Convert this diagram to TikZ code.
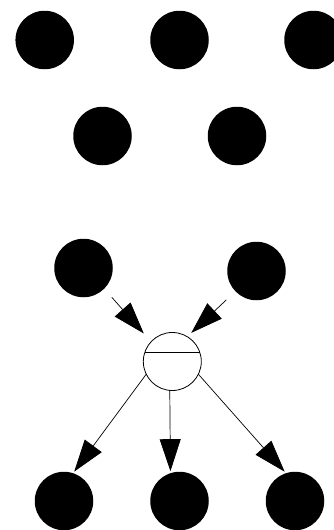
\documentclass[tikz,border=0pt]{standalone}
\usetikzlibrary{arrows.meta,calc}
\begin{document}
\begin{tikzpicture}[x=1pt,y=-1pt,
  dot/.style={circle,fill=black,minimum size=58.5pt,inner sep=0pt,outer sep=0pt},
  hubnode/.style={circle,draw=black,fill=white,line width=0.8pt,minimum size=58pt,inner sep=0pt,outer sep=0pt},
  conn/.style={line width=0.7pt,-{Triangle[length=32pt,width=21pt]}}]
\useasboundingbox (0,0) rectangle (333,530);
\node[dot] (t1) at (44.7,40) {};
\node[dot] (t2) at (179.5,40) {};
\node[dot] (t3) at (313.5,40) {};
\node[dot] (m1) at (102.5,136) {};
\node[dot] (m2) at (237,136) {};
\node[dot] (a) at (83.5,268) {};
\node[dot] (b) at (256.5,271) {};
\node[hubnode] (hub) at (172.3,361.5) {};
\draw[line width=0.8pt] ($(hub.center)+(-27.6,-8.7)$) -- ($(hub.center)+(27.6,-8.7)$);
\node[dot] (c1) at (64,501) {};
\node[dot] (c2) at (179.5,501) {};
\node[dot] (c3) at (295,501) {};
\draw[conn,shorten <=11.5pt,shorten >=11pt] (a.-45) -- (hub.137);
\draw[conn,shorten <=12.5pt,shorten >=5.5pt] (b.224) -- (hub.59);
\draw[conn,shorten >=2pt] (hub.206) -- (c1.72);
\draw[conn,shorten >=2pt] (hub.265) -- (c2.108);
\draw[conn,shorten >=2pt] (hub.334) -- (c3.108);
\end{tikzpicture}
\end{document}
